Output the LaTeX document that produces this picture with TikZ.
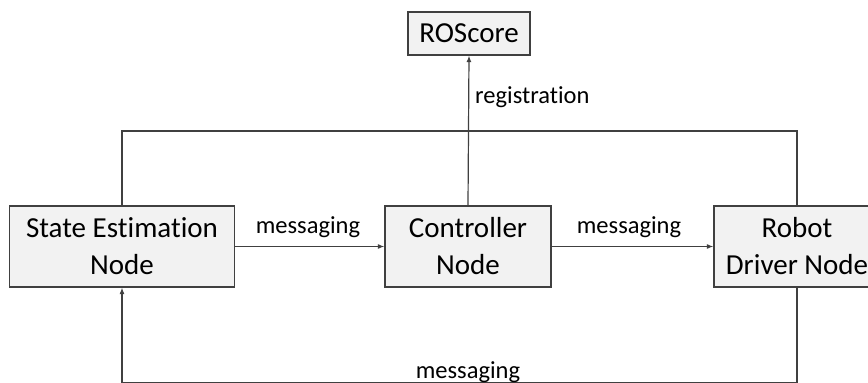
\documentclass[tikz,border=0pt]{standalone}
\usepackage{fontspec}
\setmainfont{Carlito}[Ligatures=NoCommon]
\usetikzlibrary{arrows.meta}
\definecolor{boxfill}{HTML}{F2F2F2}
\definecolor{linegray}{HTML}{404040}
\begin{document}
\begin{tikzpicture}[x=1pt,y=-1pt,
  box/.style={draw=linegray, line width=1.2pt, fill=boxfill, align=center,
    inner sep=0pt, font=\fontsize{29}{37}\selectfont},
  link/.style={draw=linegray, line width=1.2pt},
  arrow/.style={link, -{Latex[length=6.5pt,width=5pt]}},
  lbl/.style={font=\fontsize{24.5}{30}\selectfont, inner sep=0pt}]
\useasboundingbox (0,0) rectangle (868,383);

% components
\node[box, minimum width=122pt, minimum height=43pt] (roscore) at (469,33.5) {ROScore};
\node[box, minimum width=225pt, minimum height=81pt] (sen) at (122,246.5) {State Estimation\\Node};
\node[box, minimum width=166pt, minimum height=81pt] (ctrl) at (468,246.5) {Controller\\Node};
\node[box, minimum width=166pt, minimum height=81pt] (rdn) at (797,246.5) {Robot\\Driver Node};

% corner points of the two loops
\coordinate (topL) at (122,131);
\coordinate (topR) at (797,131);
\coordinate (botL) at (122,383);
\coordinate (botR) at (797,383);

% top loop joining the outer nodes
\draw[link] (sen.north) -- (topL) -- (topR) -- (rdn.north);

% registration with the core
\draw[arrow] (ctrl.north) -- (roscore.south);
\node[lbl, anchor=base west] (reglbl) at (475,103) {registration};

% forward messaging
\draw[arrow] (sen.east) -- (ctrl.west);
\node[lbl, anchor=base] (msg1) at (308,233) {messaging};
\draw[arrow] (ctrl.east) -- (rdn.west);
\node[lbl, anchor=base] (msg2) at (629,233) {messaging};

% feedback messaging
\draw[arrow] (rdn.south) -- (botR) -- (botL) -- (sen.south);
\node[lbl, anchor=base] (msg3) at (468,378) {messaging};
\end{tikzpicture}
\end{document}
